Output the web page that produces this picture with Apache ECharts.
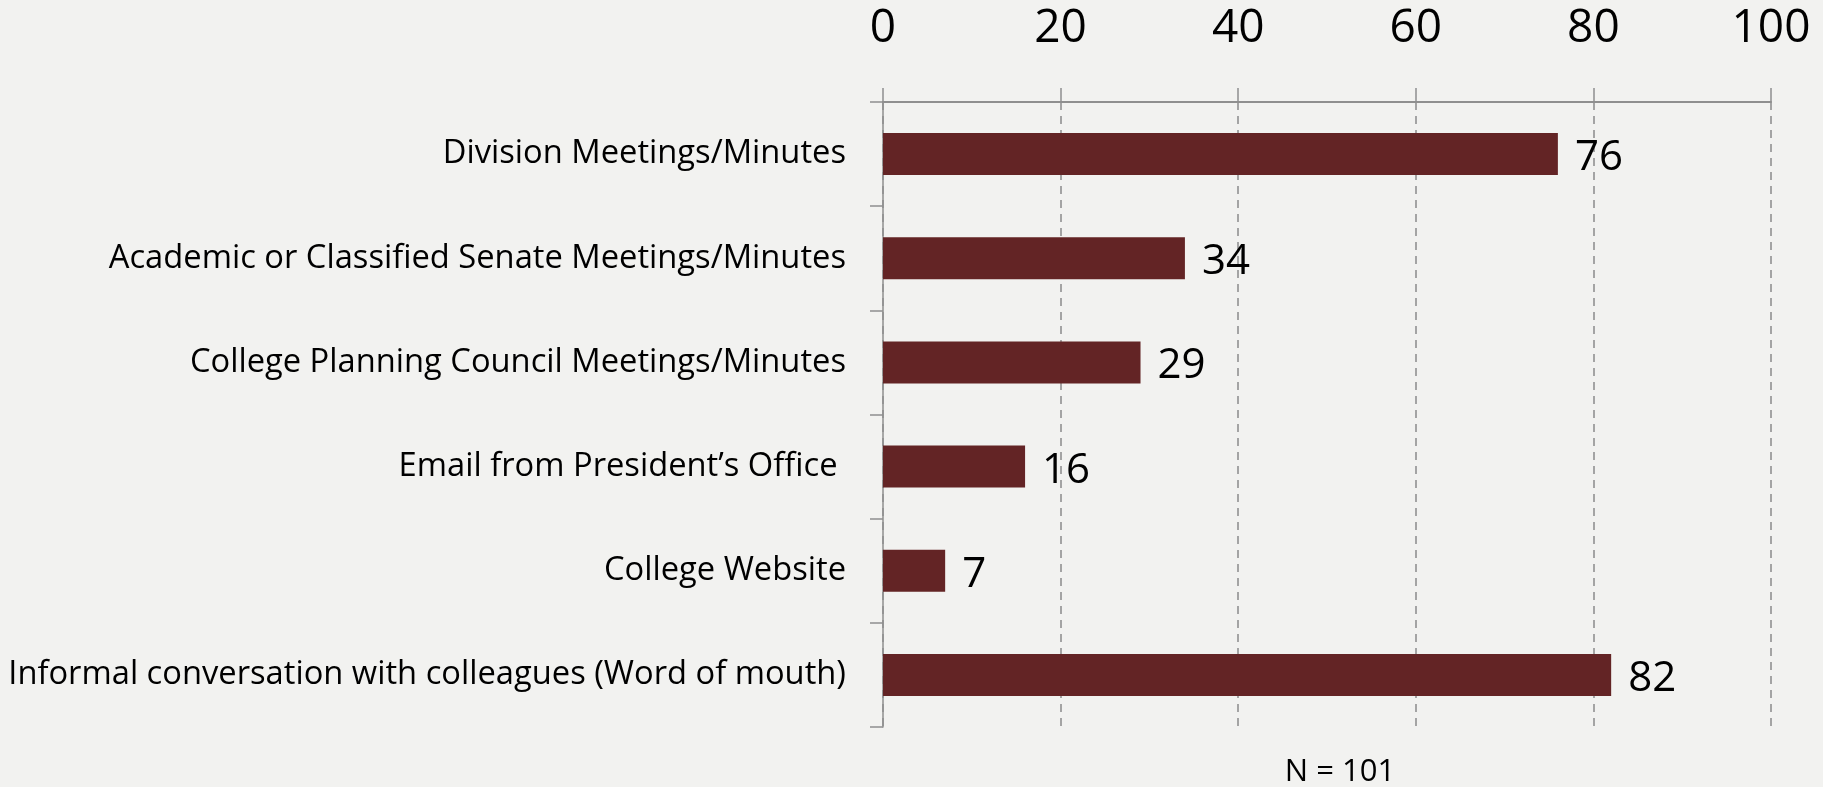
<!DOCTYPE html>
<html>
<head>
<meta charset="utf-8">
<script src="https://cdn.jsdelivr.net/npm/echarts@6/dist/echarts.min.js"></script>
<style>
html,body{margin:0;padding:0;background:#f2f2f0;}
#chart{width:1823px;height:787px;}
</style>
</head>
<body>
<div id="chart"></div>
<script>
const categories = [
  "Division Meetings/Minutes",
  "Academic or Classified Senate Meetings/Minutes",
  "College Planning Council Meetings/Minutes",
  "Email from President\u2019s Office ",
  "College Website",
  "Informal conversation with colleagues (Word of mouth)"
];
const values = [76, 34, 29, 16, 7, 82];
const xTicks = [0, 20, 40, 60, 80, 100];
const noteText = "N = 101";

const FONT = "'Open Sans', 'Noto Sans', sans-serif";
const chart = echarts.init(document.getElementById('chart'));
chart.setOption({
  backgroundColor: '#f2f2f0',
  animation: false,
  grid: { left: 883, right: 52, top: 102, bottom: 60, containLabel: false },
  xAxis: {
    type: 'value',
    position: 'top',
    min: xTicks[0],
    max: xTicks[xTicks.length - 1],
    interval: xTicks[1] - xTicks[0],
    axisLine: { show: true, lineStyle: { color: '#8f8f8f', width: 2 } },
    axisTick: { show: true, length: 14, lineStyle: { color: '#8f8f8f', width: 1.5 } },
    splitLine: { show: true, lineStyle: { color: '#8a8a8a', type: [8, 6], width: 1.5 } },
    axisLabel: { fontFamily: FONT, fontSize: 46, color: '#000', margin: 50 }
  },
  yAxis: {
    type: 'category',
    inverse: true,
    data: categories,
    axisLine: { show: true, lineStyle: { color: '#8f8f8f', width: 1.5 } },
    axisTick: { show: true, length: 13, lineStyle: { color: '#8f8f8f', width: 1.5 } },
    splitLine: { show: false },
    axisLabel: { fontFamily: FONT, fontSize: 32.7, color: '#000', margin: 37, padding: [7, 0, 0, 0] }
  },
  series: [{
    type: 'bar',
    data: values,
    barWidth: 42,
    itemStyle: { color: '#632425' },
    label: {
      show: true,
      position: 'right',
      distance: 17,
      offset: [0, 4],
      fontFamily: FONT,
      fontSize: 42,
      color: '#000'
    }
  }],
  graphic: [{
    type: 'text',
    x: 1340,
    y: 772,
    style: { text: noteText, fontFamily: FONT, fontSize: 31, fill: '#000', align: 'center', verticalAlign: 'middle' }
  }]
});
</script>
</body>
</html>
